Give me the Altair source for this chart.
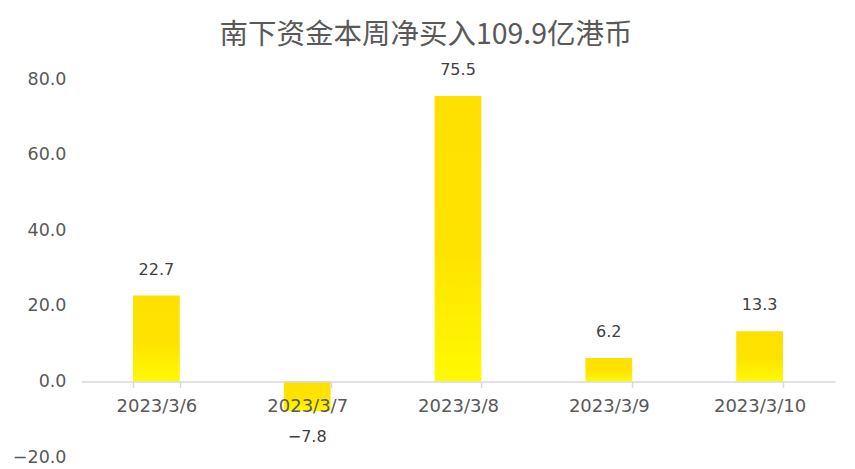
import altair as alt
import pandas as pd

dates = ["2023/3/6", "2023/3/7", "2023/3/8", "2023/3/9", "2023/3/10"]
values = [22.7, -7.8, 75.5, 6.2, 13.3]
y_ticks = [-20, 0, 20, 40, 60, 80]
title_text = "南下资金本周净买入109.9亿港币"

df = pd.DataFrame({"date": dates, "value": values})

num_font = "DejaVu Sans"

x = alt.X("date:N", sort=dates, title=None,
          scale=alt.Scale(paddingInner=0.69, paddingOuter=0.345),
          axis=alt.Axis(offset=-75.5, labelAngle=0, labelFontSize=18, labelColor="#595959",
                        labelFont=num_font, domainColor="#D9D9D9", domainWidth=1.5,
                        tickColor="#D9D9D9", tickWidth=1.5, tickSize=6, tickBand="extent",
                        labelPadding=10, grid=False, zindex=1))
y = alt.Y("value:Q", title=None,
          scale=alt.Scale(domain=[-20, 80], nice=False, zero=True),
          axis=alt.Axis(values=y_ticks, format=".1f", labelFontSize=17.5, labelColor="#595959",
                        labelFont=num_font, domain=False, ticks=False, grid=False, labelPadding=15))

grad = alt.Gradient(gradient="linear", x1=0, y1=0, x2=0, y2=1,
                    stops=[alt.GradientStop(color="#FFE000", offset=0),
                           alt.GradientStop(color="#FFE300", offset=0.55),
                           alt.GradientStop(color="#FFFA00", offset=1)])

bars = alt.Chart(df).mark_bar(color=grad).encode(x=x, y=y)

pos = alt.Chart(df).transform_filter("datum.value >= 0").mark_text(
    dy=-26, fontSize=16, color="#404040", font=num_font, baseline="middle").encode(
    x=alt.X("date:N", sort=dates), y="value:Q", text=alt.Text("value:Q", format=".1f"))
neg = alt.Chart(df).transform_filter("datum.value < 0").mark_text(
    dy=26, fontSize=16, color="#404040", font=num_font, baseline="middle").encode(
    x=alt.X("date:N", sort=dates), y="value:Q", text=alt.Text("value:Q", format=".1f"))

chart = alt.layer(bars, pos, neg).properties(
    width=754, height=378,
    autosize=alt.AutoSizeParams(type="none"),
    padding={"left": 73, "top": 71, "right": 12, "bottom": 12},
    title=alt.TitleParams(title_text, fontSize=28.5, color="#595959", font="Noto Sans CJK SC",
                          fontWeight="normal", anchor="middle", dx=-32, offset=13),
).configure_view(stroke=None)

chart.save("out.html", embed_options={"renderer": "svg", "actions": False})
